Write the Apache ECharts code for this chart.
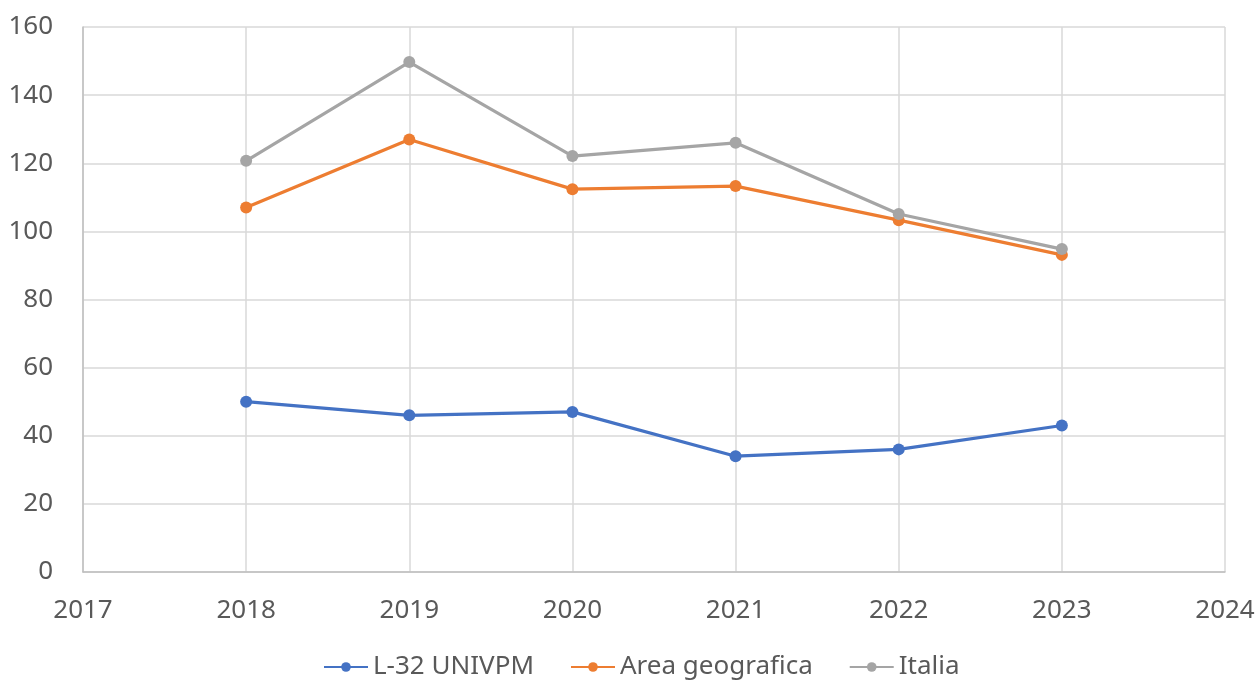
<!DOCTYPE html>
<html><head><meta charset="utf-8">
<script src="https://cdn.jsdelivr.net/npm/echarts@6/dist/echarts.min.js"></script>
<style>html,body{margin:0;padding:0;background:#fff}#c{width:1258px;height:682px}</style>
</head><body><div id="c"></div>
<script>
const years = [2018, 2019, 2020, 2021, 2022, 2023];
const seriesNames = ['L-32 UNIVPM', 'Area geografica', 'Italia'];
const univpm = [50, 46, 47, 34, 36, 43];
const areaGeo = [107, 127, 112.4, 113.3, 103.3, 93.1];
const italia = [120.7, 149.7, 122.1, 126, 105.1, 94.8];
const colors = ['#4472C4', '#ED7D31', '#A5A5A5'];
const font = 'Noto Sans';
const chart = echarts.init(document.getElementById('c'), null, {renderer: 'canvas'});
const mk = (name, vals, color) => ({
  name, type: 'line', data: years.map((y, i) => [y, vals[i]]),
  symbol: 'circle', symbolSize: 12,
  lineStyle: {width: 3.2, color}, itemStyle: {color},
  emphasis: {disabled: true}, animation: false
});
chart.setOption({
  animation: false,
  textStyle: {fontFamily: font},
  grid: {left: 83, right: 33, top: 27, bottom: 110, containLabel: false},
  legend: {
    top: 650, left: 323, padding: 0, itemWidth: 44, itemHeight: 12, itemGap: 36,
    textStyle: {fontFamily: font, fontSize: 26, color: '#595959', lineHeight: 34},
    data: seriesNames
  },
  xAxis: {
    type: 'value', min: 2017, max: 2024, interval: 1,
    axisLine: {show: true, lineStyle: {color: '#bfbfbf', width: 1.5}},
    axisTick: {show: false},
    splitLine: {show: true, lineStyle: {color: '#d9d9d9', width: 1.5}},
    axisLabel: {fontFamily: font, fontSize: 26, color: '#595959', margin: 26, formatter: v => String(v)}
  },
  yAxis: {
    type: 'value', min: 0, max: 160, interval: 20,
    axisLine: {show: true, lineStyle: {color: '#bfbfbf', width: 1.5}},
    axisTick: {show: false},
    splitLine: {show: true, lineStyle: {color: '#d9d9d9', width: 1.5}},
    axisLabel: {fontFamily: font, fontSize: 26, color: '#595959', margin: 30}
  },
  series: [mk(seriesNames[0], univpm, colors[0]), mk(seriesNames[1], areaGeo, colors[1]), mk(seriesNames[2], italia, colors[2])]
});
</script></body></html>
